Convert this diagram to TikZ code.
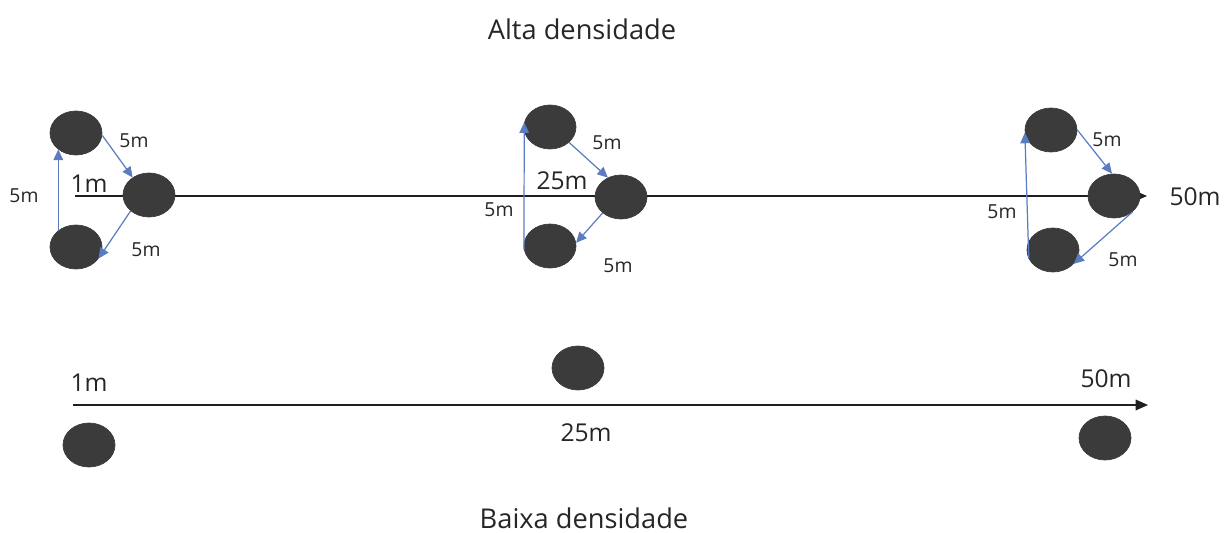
\documentclass[tikz,border=0pt]{standalone}
\usepackage{fontspec}
\setmainfont{Open Sans}
\usetikzlibrary{arrows.meta,shapes.geometric}
\definecolor{cova}{HTML}{3B3B3B}
\definecolor{seta}{HTML}{5B7DBF}
\tikzset{
  planta/.style={ellipse, fill=cova, draw=cova, minimum width=1.04cm, minimum height=0.88cm, inner sep=0pt},
  passo/.style={seta, line width=0.7pt, -{Triangle[length=6pt,width=5.5pt]}},
  eixo/.style={black!88, line width=0.9pt, -{Triangle[length=7pt,width=6pt]}},
  rot/.style={font=\fontsize{11}{13}\selectfont, text=black!85, inner sep=0pt},
  marca/.style={font=\fontsize{14}{16}\selectfont, text=black!85, inner sep=0pt},
  titulo/.style={font=\fontsize{15.5}{18}\selectfont, text=black!85, inner sep=0pt}
}

\begin{document}
\begin{tikzpicture}[x=0.02cm, y=-0.02cm]
	%%%%% START %%%%%
	\useasboundingbox (0,0) rectangle (1224,533);
	
	\node[titulo] (alta) at (582,29) {Alta densidade};
	\node[titulo] (baixa) at (584,518) {Baixa densidade};
	
	% alta densidade
	\coordinate (a0) at (75,196);
	\coordinate (a1) at (1147,196);
	\draw[eixo] (a0) -- (a1);
	
	\node[planta] (t1) at (76,133) {};
	\node[planta] (m1) at (149,195) {};
	\node[planta] (b1) at (76,247) {};
	
	\node[planta] (t2) at (550,127) {};
	\node[planta] (m2) at (621,197) {};
	\node[planta] (b2) at (550,246) {};
	
	\node[planta] (t3) at (1051,130) {};
	\node[planta] (m3) at (1114,196) {};
	\node[planta] (b3) at (1053,250) {};
	
	\draw[passo] (b1.137) -- (t1.223);
	\draw[passo] (t1.-5) -- (m1.133);
	\draw[passo] (m1.221) -- (b1.-27);
	
	\draw[passo] (b2.188) -- (t2.170);
	\draw[passo] (t2.-39) -- (m2.124);
	\draw[passo] (m2.221) -- (b2.7);
	
	\draw[passo] (b3.200) -- (t3.186);
	\draw[passo] (t3.east) -- (m3.95);
	\draw[passo] (m3.-41) -- (b3.-34);
	
	\node[marca] (k1) at (89,184) {1m};
	\node[marca] (k25) at (562,181) {25m};
	\node[marca] (k50) at (1195,197) {50m};
	
	\node[rot] (e1) at (24,196) {5m};
	\node[rot] (f1) at (134,141) {5m};
	\node[rot] (g1) at (146,250) {5m};
	\node[rot] (e2) at (499,210) {5m};
	\node[rot] (f2) at (607,143) {5m};
	\node[rot] (g2) at (618,266) {5m};
	\node[rot] (e3) at (1002,212) {5m};
	\node[rot] (f3) at (1107,140) {5m};
	\node[rot] (g3) at (1123,260) {5m};
	
	% baixa densidade
	\coordinate (z0) at (73,405);
	\coordinate (z1) at (1148,405);
	\draw[eixo] (z0) -- (z1);
	
	\node[planta] (p1) at (89,445) {};
	\node[planta] (p2) at (578,368) {};
	\node[planta] (p3) at (1105,438) {};
	
	\node[marca] (q1) at (89,383) {1m};
	\node[marca] (q25) at (586,433) {25m};
	\node[marca] (q50) at (1106,379) {50m};
	%%%%% END %%%%%
\end{tikzpicture}
\end{document}
